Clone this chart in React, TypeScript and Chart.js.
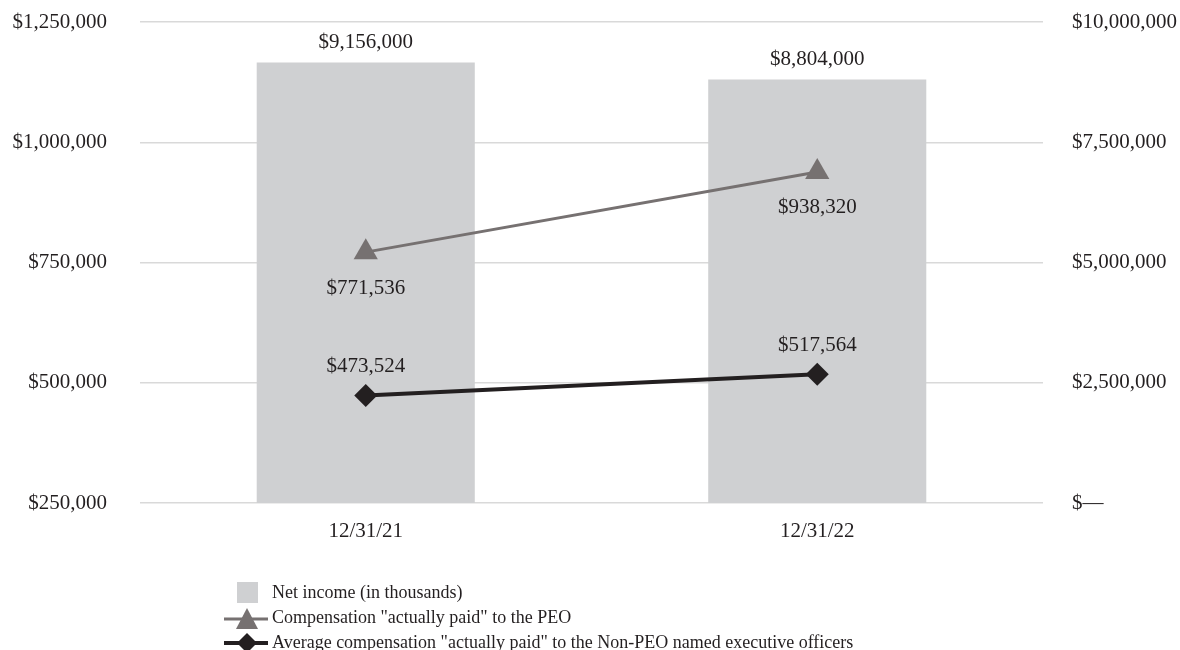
import React, { useEffect, useRef } from "react";
import { Chart, registerables } from "chart.js";

Chart.register(...registerables);

const categories = ["12/31/21", "12/31/22"];
const netIncome = [9156000, 8804000];
const peoComp = [771536, 938320];
const nonPeoComp = [473524, 517564];
const legendLabels = [
  "Net income (in thousands)",
  'Compensation "actually paid" to the PEO',
  'Average compensation "actually paid" to the Non-PEO named executive officers',
];

const FONT = '"Liberation Serif", "Times New Roman", serif';
const TEXT = "#231f20";
const BAR = "#cfd0d2";
const GRAY = "#767171";
const BLACK = "#231f20";

const fmt = (v: number) => "$" + Math.round(v).toLocaleString("en-US");

const labelPlugin = {
  id: "valueLabels",
  afterDatasetsDraw(chart: any) {
    const ctx = chart.ctx;
    ctx.save();
    ctx.font = `21px ${FONT}`;
    ctx.fillStyle = TEXT;
    ctx.textAlign = "center";
    ctx.textBaseline = "middle";
    const offsets = [-20, 36, -29];
    chart.data.datasets.forEach((ds: any, di: number) => {
      const meta = chart.getDatasetMeta(di);
      meta.data.forEach((el: any, i: number) => {
        ctx.fillText(fmt(ds.data[i]), el.x, el.y + offsets[di]);
      });
    });
    ctx.restore();
  },
};

const legendPlugin = {
  id: "customLegend",
  afterDraw(chart: any) {
    const ctx = chart.ctx;
    ctx.save();
    ctx.font = `18px ${FONT}`;
    ctx.textAlign = "left";
    ctx.textBaseline = "middle";
    const tx = 272;
    const rows = [593, 618, 643];
    ctx.fillStyle = BAR;
    ctx.fillRect(237, rows[0] - 11, 21, 21);
    ctx.strokeStyle = GRAY;
    ctx.lineWidth = 3;
    ctx.beginPath();
    ctx.moveTo(224, rows[1] + 1);
    ctx.lineTo(268, rows[1] + 1);
    ctx.stroke();
    ctx.fillStyle = GRAY;
    ctx.beginPath();
    ctx.moveTo(247, rows[1] - 10);
    ctx.lineTo(258, rows[1] + 11);
    ctx.lineTo(236, rows[1] + 11);
    ctx.closePath();
    ctx.fill();
    ctx.strokeStyle = BLACK;
    ctx.lineWidth = 4;
    ctx.beginPath();
    ctx.moveTo(224, rows[2]);
    ctx.lineTo(268, rows[2]);
    ctx.stroke();
    ctx.fillStyle = BLACK;
    ctx.beginPath();
    ctx.moveTo(247, rows[2] - 10);
    ctx.lineTo(257, rows[2]);
    ctx.lineTo(247, rows[2] + 10);
    ctx.lineTo(237, rows[2]);
    ctx.closePath();
    ctx.fill();
    ctx.fillStyle = TEXT;
    legendLabels.forEach((t, i) => ctx.fillText(t, tx, rows[i]));
    ctx.restore();
  },
};

export default function App() {
  const ref = useRef<HTMLCanvasElement | null>(null);
  useEffect(() => {
    if (!ref.current) return;
    const chart = new Chart(ref.current, {
      type: "bar",
      data: {
        labels: categories,
        datasets: [
          {
            type: "bar",
            label: legendLabels[0],
            data: netIncome,
            backgroundColor: BAR,
            yAxisID: "y1",
            barPercentage: 0.483,
            categoryPercentage: 1,
            order: 3,
          } as any,
          {
            type: "line",
            label: legendLabels[1],
            data: peoComp,
            borderColor: GRAY,
            borderWidth: 3,
            pointStyle: "triangle",
            pointRadius: 14,
            pointBackgroundColor: GRAY,
            pointBorderWidth: 0,
            yAxisID: "y",
            order: 2,
          },
          {
            type: "line",
            label: legendLabels[2],
            data: nonPeoComp,
            borderColor: BLACK,
            borderWidth: 4,
            pointStyle: "rectRot",
            pointRadius: 11.5,
            pointBackgroundColor: BLACK,
            pointBorderWidth: 0,
            yAxisID: "y",
            order: 1,
          },
        ],
      },
      options: {
        responsive: false,
        animation: false,
        layout: { padding: { top: 22, bottom: 0, left: 0, right: 0 } },
        plugins: {
          legend: { display: false },
          tooltip: { enabled: false },
        },
        scales: {
          x: {
            grid: { display: false, drawTicks: false },
            border: { display: false },
            ticks: {
              color: TEXT,
              font: { family: FONT, size: 21 },
              padding: 16,
            },
            afterFit(scale: any) {
              scale.height = 147;
              scale.paddingLeft = 0;
              scale.paddingRight = 0;
            },
          },
          y: {
            position: "left",
            min: 250000,
            max: 1250000,
            grid: { color: "#d9d9d9", lineWidth: 1.5, drawTicks: false },
            border: { display: false },
            ticks: {
              stepSize: 250000,
              color: TEXT,
              font: { family: FONT, size: 21 },
              padding: 33,
              callback: (v: any) => fmt(Number(v)),
            },
            afterFit(scale: any) {
              scale.width = 140;
              scale.paddingTop = 0;
              scale.paddingBottom = 0;
            },
          },
          y1: {
            position: "right",
            min: 0,
            max: 10000000,
            grid: { display: false, drawTicks: false },
            border: { display: false },
            ticks: {
              stepSize: 2500000,
              color: TEXT,
              font: { family: FONT, size: 21 },
              padding: 29,
              callback: (v: any) => (Number(v) === 0 ? "$\u2014" : fmt(Number(v))),
            },
            afterFit(scale: any) {
              scale.width = 137;
              scale.paddingTop = 0;
              scale.paddingBottom = 0;
            },
          },
        },
      },
      plugins: [labelPlugin, legendPlugin],
    });
    return () => chart.destroy();
  }, []);
  return (
    <div style={{ position: "absolute", left: 0, top: 0, width: 1180, height: 650, background: "#fff" }}>
      <canvas ref={ref} width={1180} height={650} style={{ display: "block" }} />
    </div>
  );
}
